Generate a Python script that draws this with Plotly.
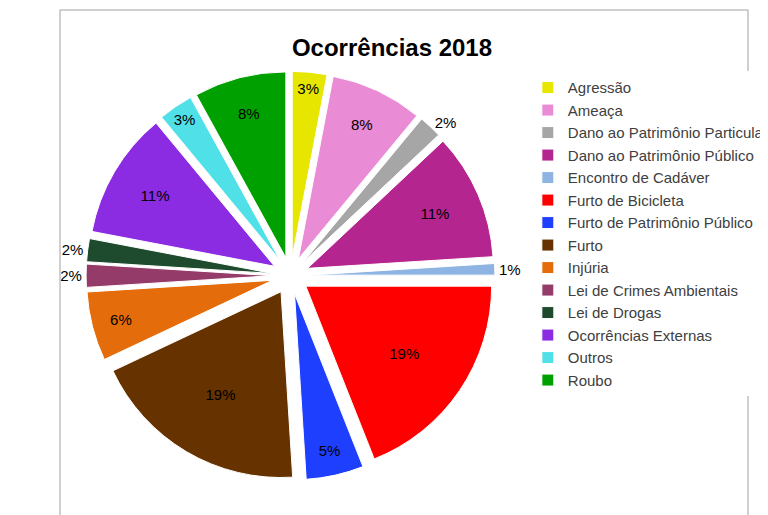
import plotly.graph_objects as go

categorias = ["Agressão", "Ameaça", "Dano ao Patrimônio Particular", "Dano ao Patrimônio Público",
              "Encontro de Cadáver", "Furto de Bicicleta", "Furto de Patrimônio Público", "Furto",
              "Injúria", "Lei de Crimes Ambientais", "Lei de Drogas", "Ocorrências Externas",
              "Outros", "Roubo"]
valores = [3, 8, 2, 11, 1, 19, 5, 19, 6, 2, 2, 11, 3, 8]
cores = ["#E6E600", "#EA8BD6", "#A6A6A6", "#B52590", "#8EB4E3", "#FF0000", "#1F3FFF",
         "#663300", "#E46C0A", "#953B6A", "#1E4B2E", "#8B2BE2", "#4FE0E8", "#00A000"]

posicoes = ["inside" if v >= 3 else "outside" for v in valores]

fig = go.Figure(go.Pie(
    labels=categorias,
    values=valores,
    marker=dict(colors=cores, line=dict(color="white", width=1)),
    sort=False,
    direction="clockwise",
    rotation=0,
    pull=[0.1] * len(valores),
    texttemplate="%{percent:.0%}",
    textposition=posicoes,
    textfont=dict(size=15, color="black", family="Liberation Sans"),
    domain=dict(x=[0.03, 0.64], y=[0.08, 0.88]),
))

fig.update_layout(
    width=768, height=515,
    paper_bgcolor="white",
    margin=dict(l=2, r=2, t=2, b=2),
    title=dict(text="<b>Ocorrências 2018</b>", x=0.5, xanchor="center", y=0.94,
               font=dict(size=24, color="black", family="Liberation Sans")),
    legend=dict(x=0.68, y=0.88, yanchor="top", font=dict(size=15, color="#404040",
                family="Liberation Sans"), itemwidth=30),
    shapes=[dict(type="rect", xref="paper", yref="paper", x0=0, y0=0, x1=1, y1=1,
                 line=dict(color="#A0A0A0", width=1))],
)

fig.write_html("out.html")
